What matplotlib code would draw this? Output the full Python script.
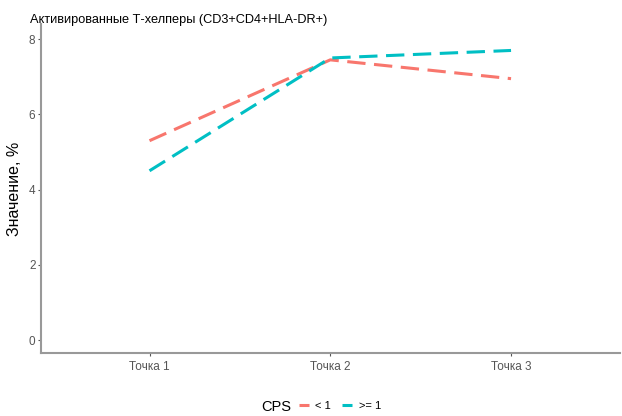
import matplotlib.pyplot as plt
from matplotlib.lines import Line2D

plt.rcParams["font.family"] = ["Liberation Sans", "DejaVu Sans"]

points = ["Точка 1", "Точка 2", "Точка 3"]
low_cps = [5.3, 7.45, 6.95]
high_cps = [4.5, 7.5, 7.7]
groups = ["< 1", ">= 1"]
colors = ["#F8766D", "#00BFC4"]

fig = plt.figure(figsize=(6.22, 4.16), dpi=100)
ax = fig.add_axes([0.066, 0.151, 0.93, 0.791])

dash = (0, (6, 2.8))
x = range(1, len(points) + 1)
for vals, c in zip([low_cps, high_cps], colors):
    ax.plot(x, vals, color=c, lw=2.2, ls=dash)

ax.set_xlim(0.4, 3.6)
ax.set_ylim(-0.35, 8.4)
ax.set_xticks(list(x), points)
ax.set_yticks([0, 2, 4, 6, 8])
ax.tick_params(colors="#555555", labelsize=8.5, length=2, width=0.8)
ax.tick_params(axis="y", pad=2)
for s in ["top", "right"]:
    ax.spines[s].set_visible(False)
for s in ["left", "bottom"]:
    ax.spines[s].set_color("#999999")
    ax.spines[s].set_linewidth(1.5)

ax.set_ylabel("Значение, %", fontsize=11.5, labelpad=5)
fig.text(0.048, 0.952, "Активированные Т-хелперы (CD3+CD4+HLA-DR+)", fontsize=9.2, va="center")

# legend: title on same row as entries
fig.text(0.42, 0.022, "CPS", fontsize=10.5, va="center")
handles = [Line2D([0], [0], color=c, lw=2.2, ls=dash) for c in colors]
fig.legend(handles, groups, loc="center left", bbox_to_anchor=(0.48, 0.025),
           ncol=2, frameon=False, fontsize=8, handlelength=0.9,
           handletextpad=0.6, columnspacing=1.0, borderpad=0, borderaxespad=0)

fig.savefig("out.png", dpi=100)
